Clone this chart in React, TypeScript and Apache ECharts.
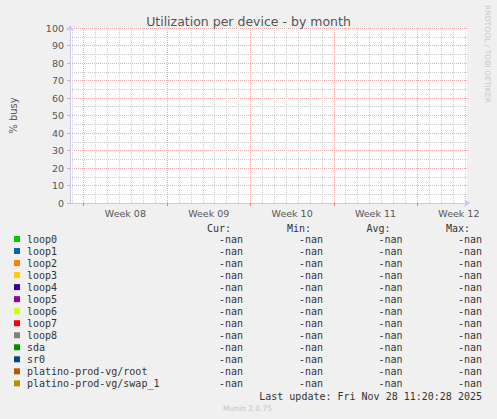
import { useEffect, useRef } from "react";
import * as echarts from "echarts";

const devices = [
  "loop0",
  "loop1",
  "loop2",
  "loop3",
  "loop4",
  "loop5",
  "loop6",
  "loop7",
  "loop8",
  "sda",
  "sr0",
  "platino-prod-vg/root",
  "platino-prod-vg/swap_1",
];
const deviceColors = [
  "#00CC00",
  "#0066B3",
  "#FF8000",
  "#FFCC00",
  "#330099",
  "#990099",
  "#CCFF00",
  "#FF0000",
  "#808080",
  "#008F00",
  "#00487D",
  "#B35A00",
  "#B38F00",
];
// every device reports -nan for the whole month
const curValues = devices.map(() => "-nan");
const minValues = devices.map(() => "-nan");
const avgValues = devices.map(() => "-nan");
const maxValues = devices.map(() => "-nan");
const columnHeaders = ["Cur:", "Min:", "Avg:", "Max:"];
const weekLabels = ["Week 08", "Week 09", "Week 10", "Week 11", "Week 12"];
const yTicks = [0, 10, 20, 30, 40, 50, 60, 70, 80, 90, 100];

const SANS = "DejaVu Sans";
const MONO = "DejaVu Sans Mono";
const DAYS = 400 / 12;
const FIRST_WEEK = 1.15;
const MAJOR_GRID = "#f2a6a6";
const MINOR_GRID = "#cfcfcf";

export default function App() {
  const reference = useRef<HTMLDivElement>(null);
  useEffect(() => {
    const element = reference.current;
    if (element === null) return;
    const chart = echarts.init(element, undefined, { renderer: "svg" });

    const weekStarts = weekLabels.map((_, i) => FIRST_WEEK + 7 * i);
    const weekCenters = weekStarts.map((w) => w + 3.5);
    const dayLines: number[] = [];
    for (let d = FIRST_WEEK - 1; d < DAYS; d += 1) dayLines.push(d);

    const valueColumns = [243, 323, 402.5, 482];
    const cell = (width: number) => ({
      width,
      align: "right" as const,
      fontFamily: MONO,
      fontSize: 10,
      color: "#333",
    });

    chart.setOption({
      animation: false,
      backgroundColor: "#f0f0f0",
      title: {
        text: "Utilization per device - by month",
        left: "center",
        top: 10,
        textStyle: {
          fontFamily: SANS,
          fontSize: 12.5,
          fontWeight: "normal",
          color: "#555",
        },
      },
      grid: {
        left: 67,
        top: 28,
        width: 400,
        height: 175,
        show: true,
        backgroundColor: "#ffffff",
        borderWidth: 0,
      },
      legend: {
        orient: "vertical",
        left: 14,
        top: 234,
        padding: 0,
        itemWidth: 6,
        itemHeight: 6,
        itemGap: 2.03,
        icon: "rect",
        selectedMode: false,
        data: devices,
        itemStyle: { borderWidth: 0 },
        textStyle: {
          fontFamily: MONO,
          fontSize: 10,
          color: "#333",
          rich: {
            s: { width: 2, fontFamily: MONO, fontSize: 10 },
            n: {
              width: 203 - 27,
              fontFamily: MONO,
              fontSize: 10,
              color: "#333",
            },
            c: cell(valueColumns[0] - 203),
            m: cell(valueColumns[1] - valueColumns[0]),
            a: cell(valueColumns[2] - valueColumns[1]),
            x: cell(valueColumns[3] - valueColumns[2]),
          },
        },
        formatter: (name: string) => {
          const i = devices.indexOf(name);
          return `{s| }{n|${name}}{c|${curValues[i]}}{m|${minValues[i]}}{a|${avgValues[i]}}{x|${maxValues[i]}}`;
        },
      },
      xAxis: {
        type: "value",
        min: 0,
        max: DAYS,
        splitLine: { show: false },
        axisLine: {
          show: true,
          lineStyle: { color: "#c8c8f2", width: 1 },
          symbol: ["none", "arrow"],
          symbolSize: [6, 6],
          symbolOffset: [0, 3],
        },
        axisTick: {
          show: true,
          customValues: weekStarts,
          length: 3,
          lineStyle: { color: "#f08080" },
        },
        axisLabel: {
          customValues: weekCenters,
          margin: 5,
          fontFamily: SANS,
          fontSize: 9.5,
          color: "#555",
          formatter: (value: number) => {
            const i = weekCenters.findIndex((c) => Math.abs(c - value) < 0.01);
            return i >= 0 ? weekLabels[i] : "";
          },
        },
      },
      yAxis: {
        type: "value",
        min: yTicks[0],
        max: yTicks[yTicks.length - 1],
        interval: 10,
        name: "% busy",
        nameLocation: "middle",
        nameRotate: 90,
        nameGap: 52,
        nameTextStyle: { fontFamily: SANS, fontSize: 10, color: "#555" },
        axisLine: {
          show: true,
          lineStyle: { color: "#c8c8f2", width: 1 },
          symbol: ["none", "arrow"],
          symbolSize: [6, 6],
          symbolOffset: [0, 3],
        },
        axisTick: { show: true, length: 3, lineStyle: { color: "#bbb" } },
        axisLabel: {
          margin: 6,
          fontFamily: SANS,
          fontSize: 9.5,
          color: "#555",
        },
        splitLine: {
          show: true,
          lineStyle: { color: MAJOR_GRID, type: [1, 1] },
        },
        minorTick: { show: false, splitNumber: 2 },
        minorSplitLine: {
          show: true,
          lineStyle: { color: MINOR_GRID, type: [1, 1] },
        },
      },
      series: [
        ...devices.map((name, i) => ({
          name,
          type: "line",
          data: [] as number[],
          color: deviceColors[i],
          showSymbol: false,
        })),
        {
          name: "grid",
          type: "line",
          data: [] as number[],
          silent: true,
          markLine: {
            silent: true,
            symbol: "none",
            label: { show: false },
            animation: false,
            data: [
              ...dayLines.map((d) => ({
                xAxis: d,
                lineStyle: { color: MINOR_GRID, type: [1, 1], width: 1 },
              })),
              ...weekStarts.map((d) => ({
                xAxis: d,
                lineStyle: { color: MAJOR_GRID, type: [1, 1], width: 1 },
              })),
            ],
          },
        },
      ],
      graphic: [
        ...columnHeaders.map((label, i) => ({
          type: "text",
          x: valueColumns[i] - 12,
          y: 228.5,
          style: {
            text: label,
            fontFamily: MONO,
            fontSize: 10,
            fill: "#333",
            textAlign: "right",
            textVerticalAlign: "middle",
          },
        })),
        {
          type: "text",
          x: 482,
          y: 396,
          style: {
            text: "Last update: Fri Nov 28 11:20:28 2025",
            fontFamily: MONO,
            fontSize: 10,
            fill: "#333",
            textAlign: "right",
            textVerticalAlign: "middle",
          },
        },
        {
          type: "text",
          x: 247.5,
          y: 408,
          style: {
            text: "Munin 2.0.75",
            fontFamily: SANS,
            fontSize: 7.5,
            fill: "#c4c4c4",
            textAlign: "center",
            textVerticalAlign: "middle",
          },
        },
        {
          type: "text",
          x: 487,
          y: 54,
          rotation: -Math.PI / 2,
          style: {
            text: "RRDTOOL / TOBI OETIKER",
            fontFamily: SANS,
            fontSize: 7.6,
            fill: "#c8c8c8",
            textAlign: "center",
            textVerticalAlign: "middle",
          },
        },
      ],
    });
    return () => chart.dispose();
  }, []);
  return (
    <div
      ref={reference}
      style={{
        position: "absolute",
        left: 0,
        top: 0,
        width: 497,
        height: 419,
        background: "#f0f0f0",
      }}
    />
  );
}
